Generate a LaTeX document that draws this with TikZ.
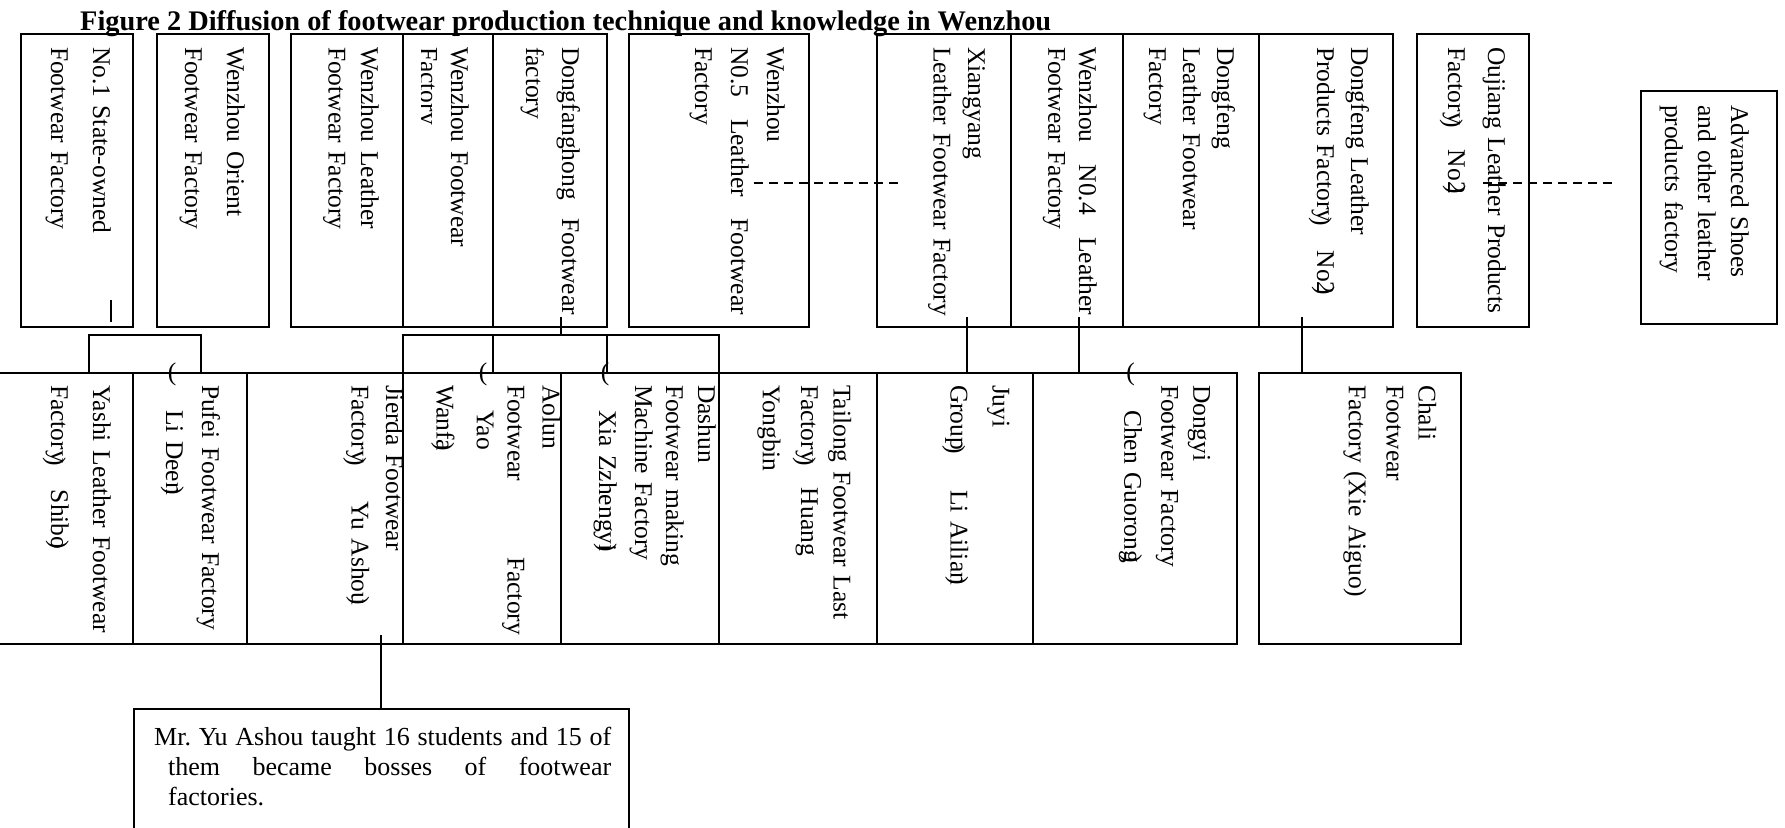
\documentclass[tikz,border=0pt]{standalone}
\usepackage{fontspec}
\setmainfont{Liberation Serif}
\usepackage{graphicx}
\newcommand\op[1]{\rlap{\kern-5pt\raisebox{-3pt}{)}}\hspace*{#1pt}}
\newcommand\cl{\llap{)}}
\newcommand\lpx{\hspace*{-22pt}\makebox[47pt][l]{\rotatebox[origin=c]{90}{(}}}
\newcommand\mkcell[5]{\node[cellbox, minimum width={(#4)-(#2)}, minimum height={(#5)-(#3)}] (#1) at (#2,#3) {};}
\tikzset{
  cellbox/.style={draw, line width=1.3pt, inner sep=0pt, outer sep=0pt, anchor=north west},
  conn/.style={line width=1.3pt},
  dashconn/.style={line width=1.3pt, dash pattern=on 9pt off 6pt},
  txt/.style={rotate=-90, anchor=base west, inner sep=0pt, outer sep=0pt, text width=300pt, align=left, font=\fontsize{25.5}{#1}\selectfont},
  txt/.default=34
}
\begin{document}
\begin{tikzpicture}[x=1pt,y=-1pt]
\useasboundingbox (0,0) rectangle (1785,827);
% title
\node[anchor=base west, inner sep=0pt] (title) at (80,30) {\resizebox{971pt}{!}{\fontsize{27}{30}\selectfont\bfseries Figure 2 Diffusion of footwear production technique and knowledge in Wenzhou}};
% top row boxes
\mkcell{A}{21}{34}{133}{327}
\mkcell{B}{157}{34}{269}{327}
\mkcell{WL}{291}{34}{403}{327}
\mkcell{WF}{403}{34}{493}{327}
\mkcell{DH}{493}{34}{607}{327}
\mkcell{N5}{629}{34}{809}{327}
\mkcell{XY}{877}{34}{1011}{327}
\mkcell{N4}{1011}{34}{1123}{327}
\mkcell{DF}{1123}{34}{1259}{327}
\mkcell{DLP}{1259}{34}{1393}{327}
\mkcell{OJ}{1417}{34}{1529}{327}
\mkcell{ADV}{1641}{91}{1777}{324}
% lower row boxes
\mkcell{YS}{-2}{373}{133}{644}
\mkcell{PF}{133}{373}{247}{644}
\mkcell{JD}{247}{373}{403}{644}
\mkcell{AL}{403}{373}{561}{644}
\mkcell{DS}{561}{373}{719}{644}
\mkcell{TL}{719}{373}{877}{644}
\mkcell{JY}{877}{373}{1033}{644}
\mkcell{DY}{1033}{373}{1237}{644}
\mkcell{CH}{1259}{373}{1461}{644}
\mkcell{MY}{134}{709}{629}{832}
% top row texts
\node[txt=42] (tA) at (93,47) {No.1 State-owned\\Footwear Factory};
\node[txt=42] (tB) at (227,47) {Wenzhou Orient\\Footwear Factory};
\node[txt=32.5] (tWL) at (361,47) {Wenzhou Leather\\Footwear Factory};
\begin{scope}
\clip (421,34) rectangle (493,327);
\node[txt=30.6] (tWF) at (451,47) {Wenzhou Footwear\\Factory};
\end{scope}
\node[txt=36] (tDH) at (562,47) {\makebox[268pt][s]{Dongfanghong\hfill Footwear}\\factory};
\node[txt=36] (tN5) at (767,47) {Wenzhou\\\makebox[268pt][s]{N0.5\hfill Leather\hfill Footwear}\\Factory};
\node[txt=34.5] (tXY) at (968,47) {Xiangyang\\Leather Footwear Factory};
\node[txt=30.6] (tN4) at (1079,47) {\makebox[268pt][s]{Wenzhou\hfill N0.4\hfill Leather}\\Footwear Factory};
\node[txt=34] (tDF) at (1217,47) {Dongfeng\\Leather Footwear\\Factory};
\node[txt=34] (tDLP) at (1351,47) {Dongfeng Leather\\Products Factory\op{28}No2\cl};
\node[txt=40] (tOJ) at (1488,47) {Oujiang Leather Products\\Factory\op{25}No2\cl};
\node[txt=33] (tADV) at (1731,105) {Advanced Shoes\\and other leather\\products factory};
% lower row texts
\node[txt=42] (tYS) at (93,385) {Yashi Leather Footwear\\Factory\op{27}Shibo\cl};
\node[txt=36] (tPF) at (202,385) {Pufei Footwear Factory\\\lpx Li Deen\cl};
\node[txt=34.5] (tJD) at (386,385) {Jierda Footwear\\Factory\op{39}Yu Ashou\cl};
\node[txt=35] (tAL) at (542.5,385) {Aolun\\\makebox[250pt][s]{Footwear\hfill Factory}\\[-4.4pt]\lpx Yao\\[5.2pt]Wanfa\cl};
\node[txt=32] (tDS) at (698,385) {Dashun\\Footwear making\\[-1pt]Machine Factory\\[4pt]\lpx Xia Zzhengyi\cl};
\node[txt=32.6] (tTL) at (833.7,385) {Tailong Footwear Last\\Factory\op{25}Huang\\[5.6pt]Yongbin};
\node[txt=42] (tJY) at (992.5,385) {Juyi\\Group\op{40}Li Ailian\cl};
\node[txt=32] (tDY) at (1193.4,385) {Dongyi\\Footwear Factory\\[5pt]\lpx Chen Guorong\cl};
\node[txt=32] (tCH) at (1418.5,385) {Chali\\Footwear\\[5.7pt]Factory (Xie Aiguo)};
\node[anchor=base west, inner sep=0pt, text width=480pt, align=left, font=\fontsize{26}{30}\selectfont] (tMY) at (154,745) {\makebox[457pt][s]{Mr.\hfill Yu\hfill Ashou\hfill taught\hfill 16\hfill students\hfill and\hfill 15\hfill of}\\\hspace*{14pt}\makebox[443pt][s]{them\hfill became\hfill bosses\hfill of\hfill footwear}\\\hspace*{14pt}factories.};
% connector coordinates
\coordinate (tickA1) at (111,300);
\coordinate (tickA2) at (111,322);
\coordinate (dhS) at (561,317);
\coordinate (dhB) at (561,335);
\coordinate (brA) at (89,335);
\coordinate (brB) at (201,335);
\coordinate (brL) at (403,335);
\coordinate (brR) at (719,335);
\coordinate (brM1) at (493,335);
\coordinate (brM2) at (607,335);
\coordinate (xyS) at (967,317);
\coordinate (n4S) at (1079,317);
\coordinate (dlpS) at (1302,317);
\coordinate (jdS) at (381,635);
\coordinate (d1a) at (754,183);
\coordinate (d1b) at (900,183);
\coordinate (d2a) at (1483,183);
\coordinate (d2b) at (1616,183);
% connectors
\draw[conn] (tickA1) -- (tickA2);
\draw[conn] (brA |- YS.north) -- (brA) -- (brB) -- (brB |- PF.north);
\draw[conn] (dhS) -- (dhB);
\draw[conn] (brL |- JD.north) -- (brL) -- (brR) -- (brR |- DS.north);
\draw[conn] (brM1) -- (brM1 |- AL.north);
\draw[conn] (brM2) -- (brM2 |- DS.north);
\draw[conn] (xyS) -- (xyS |- JY.north);
\draw[conn] (n4S) -- (n4S |- DY.north);
\draw[conn] (dlpS) -- (dlpS |- CH.north);
\draw[conn] (jdS) -- (jdS |- MY.north);
\draw[dashconn] (d1a) -- (d1b);
\draw[dashconn] (d2a) -- (d2b);
\end{tikzpicture}
\end{document}
